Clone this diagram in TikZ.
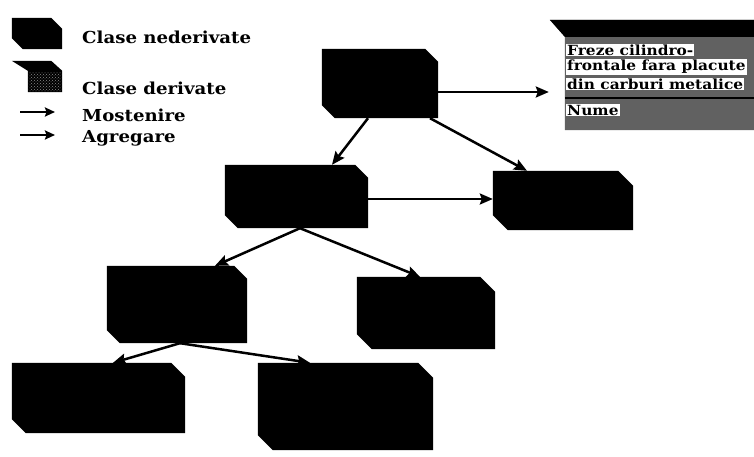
\documentclass[tikz,border=0pt]{standalone}
\usepackage{fontspec}
\setmainfont{DejaVu Serif}[FakeStretch=1.1]
\usetikzlibrary{arrows.meta,patterns}

\tikzset{
  cls/.style={rectangle, inner sep=0pt, draw=none},
  arr/.style={line width=2.5pt, -{Stealth[length=13pt,width=11pt,inset=2pt]}},
  legarr/.style={line width=2.2pt, -{Stealth[length=10pt,width=9pt,inset=1.5pt]}},
  lbl/.style={anchor=west, inner sep=0pt, font=\bfseries\fontsize{16.5}{16.5}\selectfont},
  boxtxt/.style={anchor=west, inner sep=1pt, fill=white, font=\bfseries\fontsize{14}{14}\selectfont},
}
% black class box with the north-east and south-west corners cut off
\newcommand\cutbox[2][13pt]{%
  \fill (#2.north west) -- ([xshift=-#1]#2.north east) -- ([yshift=-#1]#2.north east)
     -- (#2.south east) -- ([xshift=#1]#2.south west) -- ([yshift=#1]#2.south west) -- cycle;}

\begin{document}
\begin{tikzpicture}[x=1pt,y=-1pt]
\useasboundingbox (0,0) rectangle (754,457);

% ---- legend ----
\node[cls, minimum width=50pt, minimum height=31pt] (L1) at (37,33.5) {};
\cutbox[11pt]{L1}
\node[cls, minimum width=50pt, minimum height=31pt] (L2) at (37,76.5) {};
\fill (L2.north west) -- ([xshift=-11pt]L2.north east) -- ([yshift=-10pt]L2.north east)
  -- (L2.south east) -- ([xshift=16pt]L2.south west) -- ([xshift=16pt,yshift=-10pt]L2.north west) -- cycle;
\fill[pattern=crosshatch dots, pattern color=black!45]
  ([xshift=17pt,yshift=-12pt]L2.north west) rectangle ([xshift=-1pt,yshift=1pt]L2.south east);
\node[lbl] (t1) at (82,37) {Clase nederivate};
\node[lbl] (t2) at (82,88) {Clase derivate};
\coordinate (m1) at (20,112); \coordinate (m2) at (55,112);
\draw[legarr] (m1) -- (m2);
\node[lbl] (t3) at (82,115) {Mostenire};
\coordinate (g1) at (20,135); \coordinate (g2) at (55,135);
\draw[legarr] (g1) -- (g2);
\node[lbl] (t4) at (82,138) {Agregare};

% ---- class boxes ----
\node[cls, minimum width=116pt, minimum height=69pt] (A) at (380,83.5) {};
\node[cls, minimum width=143pt, minimum height=63pt] (B) at (296.5,196.5) {};
\node[cls, minimum width=140pt, minimum height=59pt] (C) at (563,200.5) {};
\node[cls, minimum width=140pt, minimum height=77pt] (D) at (177,304.5) {};
\node[cls, minimum width=138pt, minimum height=72pt] (E) at (426,313) {};
\node[cls, minimum width=173pt, minimum height=70pt] (F) at (98.5,398) {};
\node[cls, minimum width=175pt, minimum height=87pt] (G) at (345.5,406.5) {};
\cutbox{A} \cutbox{B} \cutbox[15pt]{C} \cutbox{D} \cutbox[15pt]{E} \cutbox[14pt]{F} \cutbox[15pt]{G}

% ---- derived class box with attribute list ----
\node[cls, minimum width=195pt, minimum height=110pt] (T) at (662.5,75) {};
\begin{scope}
  \clip (0,0) rectangle (754,457);
  \fill[black!62] ([xshift=-15pt]T.north west) -- (T.north east) -- (T.south east)
     -- (T.south west) -- ([yshift=-17pt]T.north west) -- cycle;
  \fill ([xshift=-15pt]T.north west) -- (T.north east) -- ([yshift=-17pt]T.north east)
     -- ([yshift=-17pt]T.north west) -- cycle;
  \node[boxtxt] (T1) at (566,50) {Freze cilindro-};
  \node[boxtxt] (T2) at (566,67) {frontale fara placute};
  \node[boxtxt] (T3) at (566,84) {din carburi metalice};
  \draw[line width=1.6pt] ([yshift=-23pt]T.west) -- ([yshift=-23pt]T.east);
  \node[boxtxt] (T4) at (566,110) {Nume};
\end{scope}

% ---- connectors ----
\draw[arr, shorten >=16pt] ([yshift=-8.5pt]A.east) -- ([yshift=-8.5pt]A.east -| T.west);
\draw[arr] ([xshift=-12pt]A.south) -- ([xshift=35.5pt]B.north);
\draw[arr] ([xshift=50pt]A.south) -- ([xshift=-36pt]C.north);
\draw[arr] ([yshift=-2.5pt]B.east) -- ([yshift=-2.5pt]B.east -| C.west);
\draw[arr] ([xshift=3.5pt]B.south) -- ([xshift=38pt]D.north);
\draw[arr] ([xshift=3.5pt]B.south) -- ([xshift=-6pt]E.north);
\draw[arr] ([xshift=3pt]D.south) -- ([xshift=14.5pt]F.north);
\draw[arr] ([xshift=3pt]D.south) -- ([xshift=-35.5pt]G.north);
\end{tikzpicture}
\end{document}
